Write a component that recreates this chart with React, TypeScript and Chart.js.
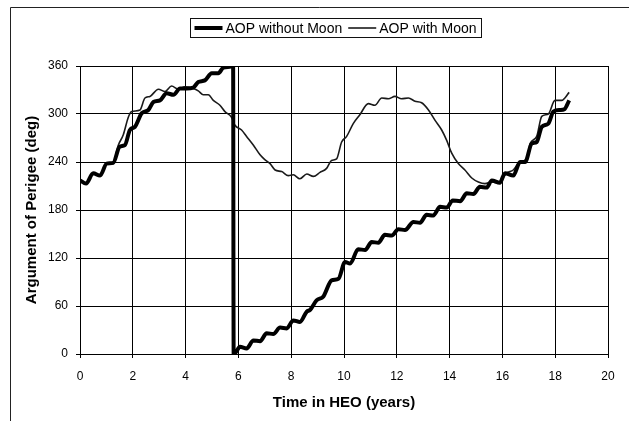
import React, { useEffect, useRef } from "react";
import { Chart, registerables } from "chart.js";

Chart.register(...registerables);

// ---- Data ----
const seriesLabels = ["AOP without Moon", "AOP with Moon"];

const tWithout = [
  0, 0.23, 0.5, 0.76, 1.01, 1.26, 1.5, 1.7, 1.89, 2.08, 2.34, 2.59, 2.78, 3.03,
  3.28, 3.54, 3.79, 4.04, 4.29, 4.48, 4.73, 4.99, 5.24, 5.43, 5.68, 5.8, 5.82,
  5.9, 6.06, 6.31, 6.57, 6.82, 7.07, 7.32, 7.58, 7.83, 8.08, 8.33, 8.59, 8.71,
  8.96, 9.22, 9.53, 9.79, 10.04, 10.23, 10.54, 10.8, 11.05, 11.3, 11.55, 11.81,
  12.06, 12.31, 12.63, 12.88, 13.13, 13.38, 13.64, 13.89, 14.12, 14.4, 14.65,
  14.9, 15.15, 15.4, 15.6, 15.9, 16.1, 16.41, 16.67, 16.86, 17.11, 17.3, 17.49,
  17.74, 17.93, 18.18, 18.35, 18.53,
];
const aopWithout = [
  217, 213, 226, 223, 238, 239, 259, 261, 280, 284, 301, 305, 315, 317, 326,
  324, 332, 332, 333, 340, 342, 351, 351, 358, 359, 360, 0, 2, 9, 7, 17, 16,
  26, 25, 33, 32, 42, 40, 53, 55, 67, 72, 92, 94, 115, 113, 131, 130, 140, 139,
  149, 148, 156, 155, 165, 164, 174, 173, 184, 183, 192, 191, 201, 200, 209,
  208, 217, 214, 226, 223, 240, 240, 263, 265, 284, 288, 303, 305, 306, 317,
];

const tWith = [
  0, 0.23, 0.5, 0.76, 1.01, 1.26, 1.45, 1.64, 1.83, 1.96, 2.27, 2.46, 2.65,
  2.97, 3.22, 3.47, 3.72, 3.98, 4.29, 4.48, 4.67, 4.86, 5.05, 5.3, 5.49, 5.74,
  5.87, 6.12, 6.31, 6.57, 6.82, 7.0, 7.2, 7.39, 7.64, 7.89, 8.08, 8.33, 8.59,
  8.84, 9.09, 9.34, 9.53, 9.72, 9.91, 10.1, 10.35, 10.6, 10.92, 11.17, 11.43,
  11.68, 11.93, 12.18, 12.44, 12.69, 12.94, 13.2, 13.45, 13.7, 13.89, 14.08,
  14.33, 14.58, 14.84, 15.09, 15.34, 15.6, 15.85, 16.16, 16.41, 16.67, 16.92,
  17.05, 17.3, 17.49, 17.74, 17.99, 18.24, 18.53,
];
const aopWith = [
  217, 213, 226, 223, 238, 239, 261, 274, 296, 303, 305, 320, 322, 331, 328,
  335, 331, 334, 332, 329, 324, 324, 317, 311, 303, 296, 286, 280, 272, 261,
  249, 243, 238, 230, 228, 223, 224, 219, 225, 222, 227, 232, 242, 244, 265,
  272, 288, 299, 313, 311, 320, 319, 322, 319, 320, 316, 314, 305, 292, 280,
  267, 251, 238, 230, 220, 215, 213, 215, 214, 226, 230, 240, 244, 263, 272,
  297, 300, 317, 317, 327,
];

const xMin = 0;
const xMax = 20;
const xStep = 2;
const yMin = 0;
const yMax = 360;
const yStep = 60;
const xTitle = "Time in HEO (years)";
const yTitle = "Argument of Perigee (deg)";

const FONT = "'Liberation Sans', Arial, Helvetica, sans-serif";

const toPoints = (xs: number[], ys: number[]) =>
  xs.map((x, i) => ({ x, y: ys[i] }));

const frameAndLegend = {
  id: "frameAndLegend",
  afterDraw(chart: any) {
    const ctx = chart.ctx as CanvasRenderingContext2D;
    ctx.save();
    // outer chart frame (only top and left visible in the scan)
    ctx.strokeStyle = "#222";
    ctx.lineWidth = 1;
    ctx.beginPath();
    ctx.moveTo(10.5, 421);
    ctx.lineTo(10.5, 7.5);
    ctx.lineTo(629, 7.5);
    ctx.stroke();

    // boxed legend
    ctx.font = `14px ${FONT}`;
    const items = chart.data.datasets.map((ds: any) => ({
      label: ds.label as string,
      w: ds.borderWidth as number,
      c: ds.borderColor as string,
    }));
    const sample = 28;
    const gapT = 3;
    const gapItem = 6;
    const padL = 4;
    const padR = 5;
    const widths = items.map((it: any) => ctx.measureText(it.label).width);
    let total = padL + padR + gapItem * (items.length - 1);
    items.forEach((_: any, i: number) => (total += sample + gapT + widths[i]));
    const cx = 335.5;
    const left = Math.round(cx - total / 2) + 0.5;
    const top = 18.5;
    const h = 19;
    ctx.strokeStyle = "#111";
    ctx.lineWidth = 1;
    ctx.strokeRect(left, top, Math.round(total), h);
    let x = left + padL;
    const y = top + h / 2;
    items.forEach((it: any, i: number) => {
      ctx.strokeStyle = it.c;
      ctx.lineWidth = it.w;
      ctx.beginPath();
      ctx.moveTo(x, y);
      ctx.lineTo(x + sample, y);
      ctx.stroke();
      x += sample + gapT;
      ctx.fillStyle = "#000";
      ctx.textBaseline = "middle";
      ctx.textAlign = "left";
      ctx.fillText(it.label, x, y + 1);
      x += widths[i] + gapItem;
    });
    ctx.restore();
  },
};

export default function App() {
  const ref = useRef<HTMLCanvasElement | null>(null);

  useEffect(() => {
    if (!ref.current) return;
    Chart.defaults.font.family = FONT;
    const chart = new Chart(ref.current, {
      type: "line",
      data: {
        datasets: [
          {
            label: seriesLabels[0],
            data: toPoints(tWithout, aopWithout),
            borderColor: "#000",
            borderWidth: 4,
            pointRadius: 0,
            cubicInterpolationMode: "monotone",
            fill: false,
          },
          {
            label: seriesLabels[1],
            data: toPoints(tWith, aopWith),
            borderColor: "#1a1a1a",
            borderWidth: 1.6,
            pointRadius: 0,
            cubicInterpolationMode: "monotone",
            fill: false,
          },
        ],
      },
      options: {
        responsive: false,
        animation: false,
        devicePixelRatio: 1,
        layout: { padding: { left: 12, right: 21, top: 66, bottom: 8 } },
        plugins: {
          legend: { display: false },
          tooltip: { enabled: false },
        },
        scales: {
          x: {
            type: "linear",
            min: xMin,
            max: xMax,
            ticks: {
              stepSize: xStep,
              color: "#000",
              padding: 11,
              font: { size: 12, family: FONT },
            },
            grid: { color: "#000", lineWidth: 1, tickLength: 4 },
            border: { color: "#000", width: 1 },
            title: {
              display: true,
              text: xTitle,
              color: "#000",
              font: { size: 15, weight: "bold", family: FONT },
              padding: { top: 0, bottom: 1 },
            },
            afterFit: (s: any) => {
              s.height = 421 - 8 - 354;
            },
          },
          y: {
            type: "linear",
            min: yMin,
            max: yMax,
            ticks: {
              stepSize: yStep,
              color: "#000",
              padding: 8,
              font: { size: 12, family: FONT },
            },
            grid: { color: "#000", lineWidth: 1, tickLength: 4 },
            border: { color: "#000", width: 1 },
            title: {
              display: true,
              text: yTitle,
              color: "#000",
              font: { size: 15, weight: "bold", family: FONT },
              padding: { top: 11, bottom: 0 },
            },
            afterFit: (s: any) => {
              s.width = 80 - 12;
            },
          },
        },
      } as any,
      plugins: [frameAndLegend],
    });
    return () => chart.destroy();
  }, []);

  return (
    <div
      style={{
        position: "fixed",
        left: 0,
        top: 0,
        width: 629,
        height: 421,
        background: "#fff",
      }}
    >
      <canvas ref={ref} width={629} height={421} />
    </div>
  );
}
